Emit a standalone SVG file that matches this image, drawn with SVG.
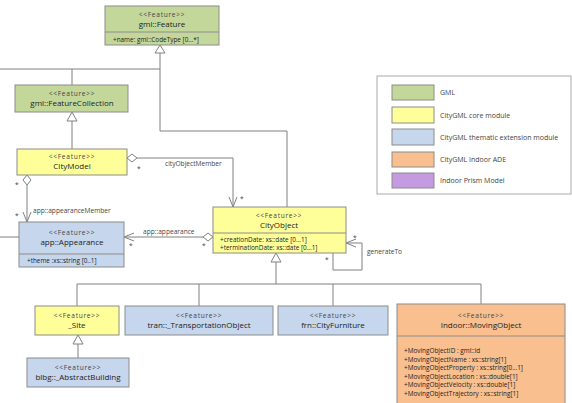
<svg xmlns="http://www.w3.org/2000/svg" width="572" height="403" viewBox="0 0 572 403">
<defs>
<style>
text{font-family:"Open Sans","Noto Sans","DejaVu Sans",sans-serif;fill:#222}
.st{font-size:6.6px;text-anchor:middle;fill:#444;letter-spacing:0.7px}
.nm{font-size:8px;text-anchor:middle}
.at{font-size:6.4px}
.lb{font-size:6.6px;fill:#444}
.lg{font-size:7px;fill:#444}
.box{stroke:#8c8c8c;stroke-width:1}
.gml{fill:#c4d79b}
.core{fill:#ffff99}
.them{fill:#c6d6ec}
.ade{fill:#f9bf8f}
.prism{fill:#c49ae0}
.ln{fill:none;stroke:#808080;stroke-width:1}
.tri{fill:#fff;stroke:#808080;stroke-width:1}
</style>
<marker id="open" viewBox="0 0 10 10" refX="10" refY="5" markerWidth="10" markerHeight="10" markerUnits="userSpaceOnUse" orient="auto">
<path d="M0,1 L10,5 L0,9" fill="none" stroke="#808080" stroke-width="1"/>
</marker>
</defs>
<rect width="572" height="403" fill="#fff"/>

<g id="connectors">
<path class="ln" d="M0,69 H160 V52"/>
<path class="ln" d="M72,85 V69"/>
<path class="ln" d="M287,207 V131 H160 V69"/>
<polygon class="tri" points="160,45 155,53 165,53"/>
<path class="ln" d="M72,149 V121"/>
<polygon class="tri" points="72,112 67,121 77,121"/>
<path class="ln" d="M137,158 H233 V207" marker-end="url(#open)"/>
<polygon class="tri" points="127,158 132,154 137,158 132,162"/>
<path class="ln" d="M27,185 V222" marker-end="url(#open)"/>
<polygon class="tri" points="27,175 31,180 27,185 23,180"/>
<path class="ln" d="M203,237 H124" marker-end="url(#open)"/>
<polygon class="tri" points="213,237 208,233 203,237 208,241"/>
<path class="ln" d="M0,237 H19"/>
<path class="ln" d="M333,253 V270 H362 V243 H346" marker-end="url(#open)"/>
<path class="ln" d="M276,262 V284"/>
<polygon class="tri" points="276,253 271,262 281,262"/>
<path class="ln" d="M77,306 V284 H481 V304"/>
<path class="ln" d="M199,284 V306"/>
<path class="ln" d="M333,284 V306"/>
<path class="ln" d="M78,344 V358"/>
<polygon class="tri" points="78,335 73,344 83,344"/>
<text class="lb" x="165" y="166">cityObjectMember</text>
<text class="lb" x="137" y="171">*</text>
<text class="lb" x="240" y="201">*</text>
<text class="lb" x="15" y="187">*</text>
<text class="lb" x="33" y="213">app::appearanceMember</text>
<text class="lb" x="15" y="218">*</text>
<text class="lb" x="143" y="234">app::appearance</text>
<text class="lb" x="129" y="248">*</text>
<text class="lb" x="202" y="248">*</text>
<text class="lb" x="353" y="240">*</text>
<text class="lb" x="325" y="262">*</text>
<text class="lb" x="367" y="254">generateTo</text>
</g>

<g id="gml-Feature">
<rect class="box gml" x="105" y="6" width="114" height="39"/>
<line class="box" x1="105" y1="32" x2="219" y2="32"/>
<text class="st" x="162" y="17">&lt;&lt;Feature&gt;&gt;</text>
<text class="nm" x="162" y="27">gml::Feature</text>
<text class="at" x="113" y="42">+name: gml::CodeType [0...*]</text>
</g>

<g id="gml-FeatureCollection">
<rect class="box gml" x="15" y="85" width="113" height="27"/>
<text class="st" x="72" y="96">&lt;&lt;Feature&gt;&gt;</text>
<text class="nm" x="72" y="106">gml::FeatureCollection</text>
</g>

<g id="CityModel">
<rect class="box core" x="17" y="149" width="110" height="26"/>
<text class="st" x="72" y="159">&lt;&lt;Feature&gt;&gt;</text>
<text class="nm" x="72" y="169">CityModel</text>
</g>

<g id="app-Appearance">
<rect class="box them" x="19" y="222" width="105" height="45"/>
<line class="box" x1="19" y1="254" x2="124" y2="254"/>
<text class="st" x="72" y="235">&lt;&lt;Feature&gt;&gt;</text>
<text class="nm" x="72" y="245">app::Appearance</text>
<text class="at" x="27" y="263">+theme :xs::string [0..1]</text>
</g>

<g id="CityObject">
<rect class="box core" x="213" y="207" width="133" height="46"/>
<line class="box" x1="213" y1="233" x2="346" y2="233"/>
<text class="st" x="279" y="218">&lt;&lt;Feature&gt;&gt;</text>
<text class="nm" x="279" y="228">CityObject</text>
<text class="at" x="220" y="242">+creationDate: xs::date [0...1]</text>
<text class="at" x="220" y="250">+terminationDate: xs::date [0...1]</text>
</g>

<g id="Site">
<rect class="box core" x="35" y="306" width="84" height="29"/>
<text class="st" x="77" y="318">&lt;&lt;Feature&gt;&gt;</text>
<text class="nm" x="77" y="328">_Site</text>
</g>

<g id="tran-TransportationObject">
<rect class="box them" x="125" y="306" width="148" height="29"/>
<text class="st" x="199" y="318">&lt;&lt;Feature&gt;&gt;</text>
<text class="nm" x="199" y="328">tran::_TransportationObject</text>
</g>

<g id="frn-CityFurniture">
<rect class="box them" x="278" y="306" width="110" height="29"/>
<text class="st" x="333" y="318">&lt;&lt;Feature&gt;&gt;</text>
<text class="nm" x="333" y="328">frn::CityFurniture</text>
</g>

<g id="Indoor-MovingObject">
<rect class="box ade" x="397" y="304" width="168" height="104"/>
<line class="box" x1="397" y1="336" x2="565" y2="336"/>
<text class="st" x="481" y="318">&lt;&lt;Feature&gt;&gt;</text>
<text class="nm" x="481" y="328">Indoor::MovingObject</text>
<text class="at" x="404" y="353">+MovingObjectID : gml::id</text>
<text class="at" x="404" y="361.5">+MovingObjectName : xs::string[1]</text>
<text class="at" x="404" y="370">+MovingObjectProperty : xs::string[0...1]</text>
<text class="at" x="404" y="378.5">+MovingObjectLocation : xs::double[1]</text>
<text class="at" x="404" y="387">+MovingObjectVelocity : xs::double[1]</text>
<text class="at" x="404" y="395.5">+MovingObjectTrajectory : xs::string[1]</text>
</g>

<g id="blbg-AbstractBuilding">
<rect class="box them" x="27" y="358" width="102" height="29"/>
<text class="st" x="78" y="370">&lt;&lt;Feature&gt;&gt;</text>
<text class="nm" x="78" y="380">blbg::_AbstractBuilding</text>
</g>

<g id="legend">
<rect x="377" y="76" width="194" height="118" fill="#fff" stroke="#aaa" stroke-width="1"/>
<rect class="box gml" x="392" y="85" width="42" height="15"/>
<rect class="box core" x="392" y="107" width="42" height="16"/>
<rect class="box them" x="392" y="129" width="42" height="16"/>
<rect class="box ade" x="392" y="152" width="42" height="15"/>
<rect class="box prism" x="392" y="173" width="42" height="15"/>
<text class="lg" x="440" y="95">GML</text>
<text class="lg" x="440" y="118">CityGML core module</text>
<text class="lg" x="440" y="140">CityGML thematic extension module</text>
<text class="lg" x="440" y="162">CityGML Indoor ADE</text>
<text class="lg" x="440" y="183">Indoor Prism Model</text>
</g>
</svg>
